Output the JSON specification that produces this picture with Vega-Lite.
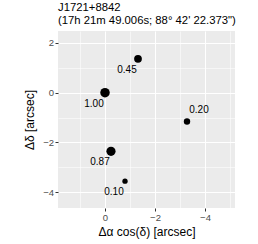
{
  "$schema": "https://vega.github.io/schema/vega-lite/v6.json",
  "autosize": {"type": "none"},
  "width": 177,
  "height": 177,
  "padding": {"left": 58, "top": 31, "right": 23, "bottom": 36},
  "background": "white",
  "title": {
    "text": ["J1721+8842", "(17h 21m 49.006s; 88° 42' 22.373\")"],
    "anchor": "start",
    "frame": "group",
    "font": "Liberation Sans",
    "fontSize": 11.3,
    "fontWeight": "normal",
    "color": "black",
    "offset": 5,
    "lineHeight": 13
  },
  "config": {
    "view": {"fill": "#EBEBEB", "stroke": null},
    "font": "Liberation Sans"
  },
  "data": {
    "values": [
      {"dra": 0.0, "ddec": 0.0, "w": 1.0},
      {"dra": -1.32, "ddec": 1.36, "w": 0.45},
      {"dra": -3.28, "ddec": -1.16, "w": 0.2},
      {"dra": -0.24, "ddec": -2.36, "w": 0.87},
      {"dra": -0.8, "ddec": -3.56, "w": 0.1}
    ]
  },
  "encoding": {
    "x": {
      "field": "dra",
      "type": "quantitative",
      "scale": {"domain": [-5.2, 1.88], "reverse": true, "nice": false, "zero": false},
      "axis": {
        "values": [-5, -4, -3, -2, -1, 0, 1],
        "labelExpr": "datum.value % 2 == 0 ? datum.label : ''",
        "domain": false,
        "gridColor": "white",
        "gridOpacity": 1,
        "gridWidth": {"condition": {"test": "datum.value % 2 == 0", "value": 1.1}, "value": 0.55},
        "tickColor": "#333333",
        "tickSize": 3,
        "tickWidth": 1,
        "tickOpacity": {"condition": {"test": "datum.value % 2 != 0", "value": 0}, "value": 1},
        "labelColor": "#4D4D4D",
        "labelFontSize": 9.5,
        "labelPadding": 1.5,
        "title": "Δα cos(δ) [arcsec]",
        "titleFontSize": 12,
        "titleFontWeight": "normal",
        "titleColor": "black",
        "titlePadding": 4
      }
    },
    "y": {
      "field": "ddec",
      "type": "quantitative",
      "scale": {"domain": [-4.64, 2.48], "nice": false, "zero": false},
      "axis": {
        "values": [-4, -3, -2, -1, 0, 1, 2],
        "labelExpr": "datum.value % 2 == 0 ? datum.label : ''",
        "domain": false,
        "gridColor": "white",
        "gridOpacity": 1,
        "gridWidth": {"condition": {"test": "datum.value % 2 == 0", "value": 1.1}, "value": 0.55},
        "tickColor": "#333333",
        "tickSize": 3,
        "tickWidth": 1,
        "tickOpacity": {"condition": {"test": "datum.value % 2 != 0", "value": 0}, "value": 1},
        "labelColor": "#4D4D4D",
        "labelFontSize": 9.5,
        "labelPadding": 1.5,
        "title": "Δδ [arcsec]",
        "titleFontSize": 12,
        "titleFontWeight": "normal",
        "titleColor": "black",
        "titlePadding": 6
      }
    }
  },
  "layer": [
    {
      "mark": {"type": "circle", "color": "black", "opacity": 1},
      "encoding": {
        "size": {
          "field": "w",
          "type": "quantitative",
          "scale": {"type": "sqrt", "domain": [0, 1], "range": [0, 90]},
          "legend": null
        }
      }
    },
    {
      "transform": [{"filter": "datum.w != 0.2"}],
      "mark": {"type": "text", "dx": -11, "dy": 11, "fontSize": 10, "color": "black"},
      "encoding": {"text": {"field": "w", "type": "quantitative", "format": ".2f"}}
    },
    {
      "transform": [{"filter": "datum.w == 0.2"}],
      "mark": {"type": "text", "dx": 12, "dy": -11, "fontSize": 10, "color": "black"},
      "encoding": {"text": {"field": "w", "type": "quantitative", "format": ".2f"}}
    }
  ]
}
